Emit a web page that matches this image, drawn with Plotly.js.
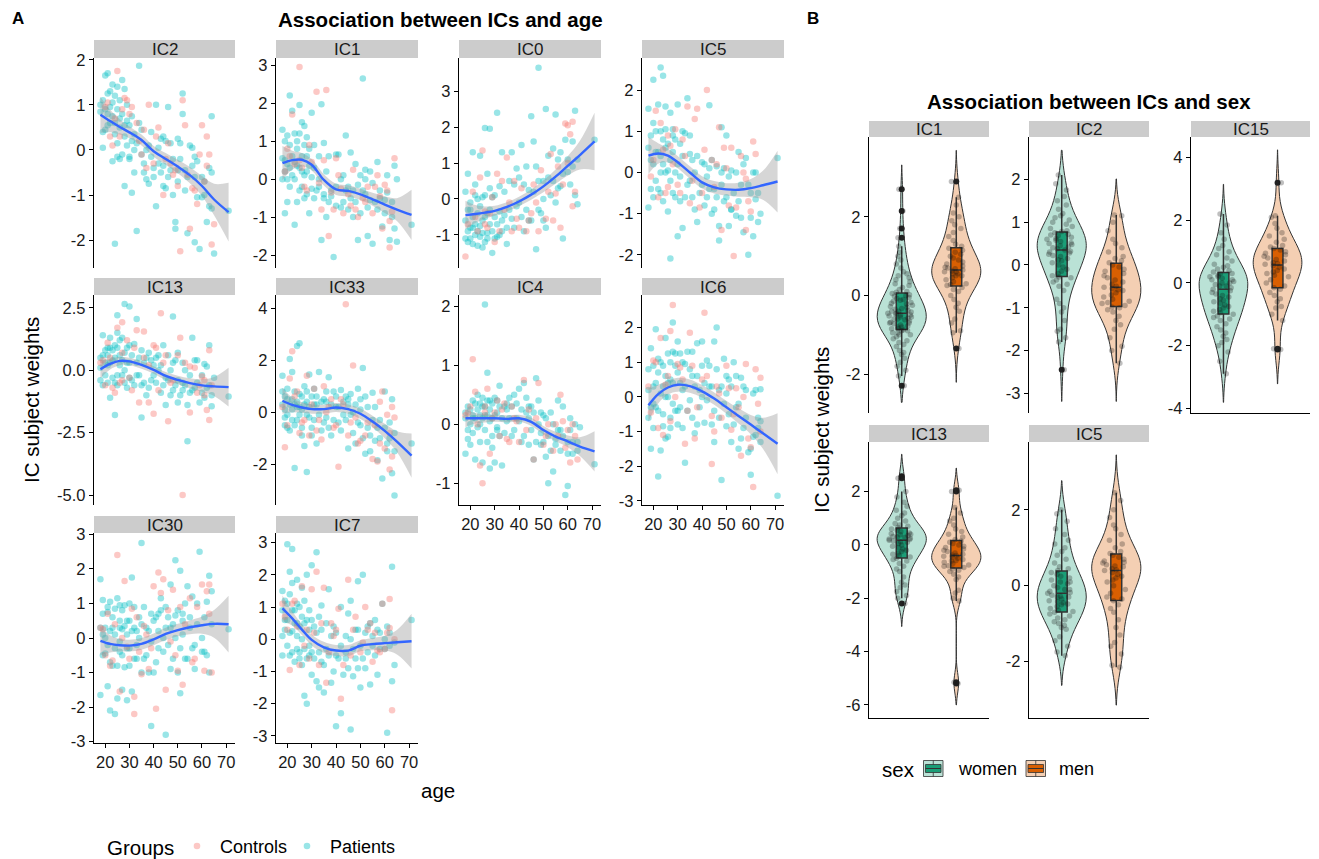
<!DOCTYPE html>
<html><head><meta charset="utf-8">
<script src="https://cdn.plot.ly/plotly-3.0.1.min.js"></script>
<style>html,body{margin:0;padding:0;background:#fff}#chart{width:1319px;height:859px}</style>
</head><body><div id="chart"></div>
<script>
// ---------------- DATA ----------------
const ageTicks = [20, 30, 40, 50, 60, 70];
const smoothAge = [18, 22, 26, 30, 35, 40, 45, 50, 55, 60, 65, 71];
const groupNames = ['Controls', 'Patients'];
const sexNames = ['women', 'men'];

// Panel A: [age, IC subject weight]
const IC2_patients = [[18,1.0],[19,0.4],[20,1.65],[21,1.7],[22,0.6],[22,1.3],[23,1.45],[24,0.35],[24,1.2],[25,0.9],[25,1.4],[26,0.5],[26,-0.2],[27,1.55],[27,0.8],[28,1.35],[28,-0.8],[29,0.1],[29,1.0],[30,0.55],[30,-0.15],[31,-0.95],[32,0.35],[32,-0.5],[33,-1.8],[34,0.6],[34,1.87],[35,-0.1],[36,-0.3],[37,0.0],[38,-0.75],[39,0.4],[40,-0.4],[41,1.0],[41,-1.25],[42,0.05],[43,0.25],[44,-0.35],[45,-0.85],[46,-0.6],[46,0.95],[47,0.15],[48,-1.0],[49,-1.6],[49,-1.75],[50,0.25],[51,-0.2],[52,1.25],[52,0.8],[53,-0.45],[54,-1.85],[55,0.1],[56,-0.35],[57,-2.05],[58,-1.05],[59,-2.2],[60,-0.6],[61,-1.0],[62,-1.6],[63,-0.4],[64,0.75],[64,-1.3],[65,-2.3],[71,-1.35],[24,-2.08],[19,0.05],[21,0.8],[23,-0.25],[31,0.2],[44,0.3],[50,-0.7],[57,-0.15],
  [18,0.85],[19,1.1],[20,0.45],[20,0.9],[21,1.25],[21,0.55],[22,0.95],[23,0.75],[23,1.05],[24,0.6],[25,0.15],[25,-0.15],[26,1.1],[26,0.7],[27,-0.1],[28,0.55],[28,0.3],[29,0.65],[30,-0.2],[31,0.75],[32,0.0],[33,0.15],[35,0.45],[36,-0.5],[37,-0.65],[38,0.1],[39,-0.15],[40,-0.6],[42,-0.3],[43,-0.5],[44,-0.8],[45,0.2],[47,-0.45],[48,-0.2],[50,-0.45],[51,0.15],[53,-0.9],[54,-0.6],[56,0.05],[57,-0.6],[58,-0.25],[60,-1.05],[61,-0.7],[63,-1.25],[64,-0.5]];
const IC2_controls = [[21,1.05],[23,0.1],[25,1.75],[27,0.9],[29,1.1],[31,0.95],[33,0.6],[35,-0.1],[38,1.0],[40,-0.3],[42,0.5],[44,-1.0],[46,0.15],[48,-0.55],[50,-0.8],[52,1.1],[53,0.55],[55,-1.75],[57,-0.9],[59,-0.1],[61,-0.7],[62,0.3],[63,-0.1],[64,-2.1],[51,-2.25],[58,-1.2],[26,0.3],[36,0.45],[47,-0.3],
  [20,0.95],[22,0.3],[24,0.7],[28,1.15],[30,0.8],[34,0.2],[37,-0.4],[41,0.3],[45,-0.2],[49,-0.45],[54,-0.55],[56,-0.85],[60,0.55],[62,-0.35],[65,-1.65]];
const IC2_fit = [0.78,0.64,0.51,0.39,0.22,-0.03,-0.20,-0.37,-0.56,-0.80,-1.10,-1.38];
const IC2_lo  = [0.38,0.39,0.34,0.26,0.10,-0.15,-0.33,-0.52,-0.74,-1.02,-1.45,-2.03];
const IC2_hi  = [1.18,0.89,0.68,0.52,0.34,0.09,-0.07,-0.22,-0.38,-0.58,-0.75,-0.73];

const IC1_patients = [[18,1.3],[18,0.0],[19,0.5],[19,-0.9],[20,1.15],[20,-0.6],[21,2.2],[21,0.3],[22,1.8],[22,0.1],[23,1.2],[23,-1.2],[24,1.0],[24,0.35],[25,1.95],[25,-0.3],[26,1.5],[26,0.6],[27,1.4],[27,-0.5],[28,1.1],[28,0.2],[29,0.8],[29,-0.9],[30,1.75],[30,0.05],[31,0.3],[31,-0.5],[34,1.97],[33,-0.2],[34,-1.6],[35,0.95],[35,-0.4],[36,-1.0],[37,0.6],[38,-0.3],[39,-2.05],[40,0.65],[40,-0.7],[42,0.0],[43,-0.6],[44,1.15],[45,-0.2],[46,0.7],[47,-1.0],[48,0.4],[49,-1.6],[50,0.1],[50,-0.9],[51,2.65],[52,-0.4],[53,-1.5],[54,0.2],[55,-1.7],[56,-0.6],[57,0.45],[58,-0.3],[59,-1.25],[60,-0.55],[61,0.1],[62,-1.6],[63,-1.0],[64,0.35],[65,-1.65],[65,0.0],[71,-1.2],[20,0.4],[27,0.9],[33,0.6],[45,-0.8],[52,0.25],
  [18,0.55],[19,1.0],[19,0.2],[20,0.0],[21,0.9],[21,-0.2],[22,0.6],[23,0.45],[23,0.0],[24,0.8],[24,-0.6],[25,1.2],[25,0.3],[26,0.2],[26,-0.2],[27,0.1],[28,0.6],[28,-0.4],[29,0.35],[30,-0.25],[31,0.9],[32,-0.3],[33,0.0],[35,-0.5],[36,0.2],[37,-0.6],[38,-0.45],[40,-0.2],[41,0.65],[42,-0.75],[43,0.1],[44,-0.3],[46,-0.5],[47,-0.3],[48,-0.6],[49,-0.15],[51,-0.3],[52,0.0],[53,-0.75],[54,-0.55],[55,-0.1],[57,-0.8],[58,-0.5],[60,-0.9],[61,-0.35],[63,-0.6],[64,-1.3]];
const IC1_controls = [[20,0.8],[22,1.7],[25,2.95],[25,0.5],[27,-0.2],[29,0.9],[32,2.3],[36,2.35],[35,0.5],[37,-1.5],[39,-0.8],[41,0.1],[43,-0.9],[45,-0.4],[47,0.25],[49,-1.0],[51,-0.5],[53,-0.2],[55,-0.9],[57,0.1],[59,-1.3],[61,-0.3],[62,-1.8],[63,-0.85],[64,0.55],[60,-0.15],[34,-0.8],[46,-0.7],
  [19,0.2],[21,0.6],[23,0.4],[26,0.3],[28,-0.3],[30,0.45],[33,-0.1],[38,-0.35],[40,0.55],[42,-0.25],[48,-0.8],[52,-0.6],[56,-0.2],[58,-0.45],[62,-1.1]];
const IC1_fit = [0.42,0.50,0.51,0.38,-0.02,-0.27,-0.31,-0.40,-0.53,-0.67,-0.80,-0.94];
const IC1_lo  = [-0.03,0.25,0.33,0.23,-0.17,-0.42,-0.46,-0.55,-0.70,-0.89,-1.10,-1.60];
const IC1_hi  = [0.87,0.75,0.69,0.53,0.13,-0.12,-0.16,-0.25,-0.36,-0.45,-0.50,-0.28];

const IC0_patients = [[18,0.2],[18,-1.1],[19,-0.9],[19,0.7],[20,-1.1],[21,1.3],[21,-0.8],[22,-1.0],[22,0.1],[23,-1.3],[23,-0.4],[24,1.2],[24,-1.05],[25,-0.6],[25,0.05],[26,1.97],[26,-1.2],[27,-0.95],[27,0.7],[28,1.95],[28,-0.3],[29,-1.5],[29,0.05],[30,-1.1],[31,2.4],[31,-0.7],[32,0.35],[32,-1.0],[33,1.3],[34,-0.45],[35,-1.25],[36,0.5],[37,1.3],[38,-0.8],[39,0.85],[40,-0.1],[41,1.5],[42,-0.9],[45,2.3],[44,0.25],[45,-0.6],[46,1.6],[48,3.65],[47,-1.4],[48,0.5],[51,2.5],[49,-0.4],[50,0.0],[51,-0.8],[52,0.6],[55,2.35],[54,1.4],[55,-0.1],[56,1.1],[57,0.35],[58,-1.1],[59,1.65],[60,0.75],[63,2.45],[61,0.4],[62,1.6],[63,0.1],[64,-0.15],[71,1.65],[20,-0.3],[26,-0.5],[33,-0.9],[43,-0.3],[50,-0.6],
  [18,-0.6],[19,-0.3],[19,-1.2],[20,-0.8],[20,-0.1],[21,-0.5],[21,-1.25],[22,-0.7],[22,0.4],[23,-0.9],[23,0.0],[24,-0.2],[24,-0.75],[25,-0.95],[25,-1.35],[26,0.1],[27,-0.4],[27,-1.1],[28,-0.7],[28,0.3],[29,-0.9],[30,-0.5],[30,0.1],[31,-1.05],[32,-0.35],[33,-0.6],[34,0.2],[35,-0.8],[36,-0.3],[37,-0.55],[38,0.4],[39,-0.2],[40,0.6],[41,-0.5],[42,0.4],[43,0.9],[44,-0.6],[46,0.2],[47,0.9],[48,-0.3],[50,0.5],[52,1.2],[53,0.1],[54,0.5],[56,0.3],[57,1.3],[58,0.7],[60,1.1],[62,0.9],[64,1.1]];
const IC0_controls = [[18,-1.6],[21,0.2],[22,-0.5],[24,0.6],[25,1.35],[27,-0.8],[29,0.05],[30,-1.2],[31,0.7],[33,0.5],[35,1.15],[37,-0.9],[39,-0.55],[41,0.3],[43,-0.9],[45,-0.4],[47,-0.1],[49,0.8],[51,-0.55],[53,1.25],[55,0.15],[57,-0.8],[58,0.4],[59,2.1],[60,2.05],[61,1.8],[62,-0.2],[63,0.2],[60,1.0],[26,-0.35],[36,-0.1],
  [19,-0.7],[23,-0.9],[26,-0.7],[28,-0.4],[32,-0.9],[34,-0.3],[38,0.5],[40,-0.8],[44,-0.6],[46,0.4],[48,-0.9],[52,0.2],[54,-0.6],[56,0.9],[62,2.15]];
const IC0_fit = [-0.45,-0.42,-0.38,-0.33,-0.22,-0.07,0.12,0.35,0.62,0.92,1.22,1.60];
const IC0_lo  = [-0.85,-0.67,-0.55,-0.47,-0.35,-0.20,-0.02,0.19,0.42,0.65,0.82,0.80];
const IC0_hi  = [-0.05,-0.17,-0.21,-0.19,-0.09,0.06,0.26,0.51,0.82,1.19,1.62,2.40];

const IC5_patients = [[18,1.55],[18,-0.85],[19,0.3],[20,2.25],[20,-0.6],[21,0.5],[21,1.0],[22,1.65],[22,-0.4],[23,2.55],[23,0.0],[24,2.35],[24,0.8],[24,-0.7],[25,1.6],[25,0.6],[26,0.05],[26,-0.95],[27,1.45],[27,0.3],[27,-2.09],[28,1.05],[29,0.0],[29,-0.6],[30,1.65],[30,-1.55],[31,0.7],[32,-1.35],[32,1.0],[33,-0.6],[34,1.8],[35,0.45],[36,-0.6],[37,0.0],[38,-1.2],[43,1.63],[39,-0.5],[40,0.25],[41,-0.8],[42,-0.1],[43,0.1],[44,-1.0],[47,-1.65],[46,0.15],[47,-1.3],[48,0.0],[48,1.1],[49,-0.7],[50,0.9],[51,-1.3],[52,0.05],[53,-0.5],[54,-1.05],[55,0.5],[56,-0.3],[57,-1.45],[58,0.35],[59,-2.0],[60,-0.5],[61,-1.55],[62,0.0],[62,-0.65],[63,-1.2],[71,0.35],[23,0.4],[28,0.9],[35,-0.2],[45,-0.4],[52,-0.9],
  [18,0.6],[19,0.9],[19,-0.4],[20,0.2],[20,1.2],[21,-0.2],[22,0.5],[23,1.0],[23,-0.5],[24,0.2],[25,0.0],[25,1.05],[26,0.7],[27,-0.2],[28,0.5],[28,-0.5],[29,0.8],[30,0.2],[31,-0.1],[31,-0.7],[32,0.4],[33,0.95],[34,-0.3],[35,0.9],[36,0.3],[37,-0.9],[38,0.4],[40,-0.3],[41,0.2],[42,-0.6],[43,-0.4],[44,0.3],[45,-0.9],[46,-0.6],[48,-0.3],[49,0.1],[50,-0.6],[51,-0.1],[52,-0.9],[54,0.0],[55,-0.7],[56,-1.1],[57,0.2],[59,-0.3],[60,-1.1],[61,0.0],[63,-0.5],[64,-1.0]];
const IC5_controls = [[19,-0.1],[21,1.5],[23,1.2],[25,-0.5],[27,0.65],[29,1.05],[30,-0.3],[32,0.8],[34,1.6],[35,-0.75],[37,1.3],[39,-0.85],[41,0.55],[42,2.0],[45,-0.35],[47,1.1],[48,-1.4],[50,0.1],[52,0.6],[54,-0.85],[53,-2.03],[56,0.4],[58,-1.4],[60,-0.95],[61,0.75],[62,0.45],[58,-0.15],[26,0.9],[44,0.3],
  [20,0.3],[22,-0.6],[24,0.55],[26,-0.35],[28,0.2],[31,-0.5],[33,0.4],[36,-0.2],[38,1.55],[40,-0.5],[46,0.2],[49,0.6],[51,-0.8],[57,0.0],[59,-0.7]];
const IC5_fit = [0.41,0.46,0.41,0.25,0.00,-0.24,-0.36,-0.41,-0.42,-0.38,-0.31,-0.22];
const IC5_lo  = [-0.04,0.21,0.24,0.10,-0.15,-0.39,-0.51,-0.56,-0.59,-0.60,-0.66,-0.97];
const IC5_hi  = [0.86,0.71,0.58,0.40,0.15,-0.09,-0.21,-0.26,-0.25,-0.16,0.04,0.53];

const IC13_patients = [[18,0.5],[18,-0.4],[19,1.4],[20,0.8],[20,-0.2],[21,0.2],[22,-1.1],[22,0.9],[23,0.4],[24,1.0],[24,-0.5],[25,1.5],[25,-0.2],[26,0.6],[25,2.2],[24,-1.8],[27,1.3],[28,0.0],[28,2.65],[29,0.9],[29,-0.7],[30,2.55],[30,0.3],[31,-0.4],[32,1.05],[33,-0.2],[33,2.05],[34,0.5],[35,-0.6],[36,0.3],[37,-1.0],[38,0.7],[39,-0.4],[35,-1.9],[41,0.5],[42,0.0],[43,-0.9],[44,1.0],[45,-0.3],[46,0.6],[47,-1.0],[48,0.3],[49,-0.6],[50,0.7],[50,-1.3],[48,2.15],[52,-0.5],[53,0.0],[54,-2.85],[55,-0.9],[56,1.3],[57,-0.7],[58,0.4],[59,-1.3],[60,-0.2],[61,-1.1],[62,0.15],[63,1.0],[63,-0.6],[64,-1.45],[65,-0.3],[71,-1.05],[21,0.6],[27,0.4],[40,0.2],[52,-0.8],
  [18,0.1],[19,0.6],[19,-0.6],[20,0.3],[21,0.9],[21,-0.5],[22,0.3],[22,1.3],[23,0.8],[23,-0.3],[24,0.5],[25,0.9],[25,-0.6],[26,0.2],[26,1.2],[27,-0.2],[28,0.7],[28,-0.5],[29,0.3],[30,1.0],[30,-0.3],[31,0.6],[32,-0.6],[33,0.3],[34,-0.2],[35,0.8],[36,-0.5],[37,0.5],[38,-0.7],[39,0.4],[40,-0.2],[41,-0.5],[42,0.6],[43,0.2],[44,-0.6],[45,-1.4],[46,-0.4],[47,0.0],[48,-0.8],[49,0.4],[50,-0.4],[51,-1.0],[52,0.3],[53,-0.6],[54,-1.4],[55,-0.2],[56,-0.8],[57,0.4],[58,-0.5],[60,-0.9],[61,0.25],[62,-0.7],[64,-1.0]];
const IC13_controls = [[19,0.4],[21,1.1],[23,-0.7],[25,1.7],[27,0.7],[27,1.92],[30,-0.3],[32,0.9],[34,-1.3],[36,1.55],[38,0.2],[40,1.0],[42,-0.8],[40,-1.75],[43,2.28],[48,-0.4],[46,-2.05],[51,1.3],[53,0.3],[55,0.15],[52,-5.0],[58,-0.9],[60,-0.25],[63,-2.0],[63,0.8],[62,-1.6],[61,-0.4],[26,-0.5],[45,0.6],
  [18,0.3],[20,-0.6],[22,0.5],[24,-0.9],[27,-0.4],[29,1.2],[31,-0.8],[33,1.6],[36,0.5],[38,-1.3],[41,0.9],[44,0.3],[47,-0.5],[50,0.6],[55,-1.7],[57,0.1],[59,-0.6],[61,-1.0],[64,-0.6]];
const IC13_fit = [0.04,0.25,0.37,0.35,0.21,0.01,-0.23,-0.39,-0.52,-0.61,-0.65,-0.68];
const IC13_lo  = [-0.33,0.03,0.20,0.20,0.06,-0.14,-0.39,-0.56,-0.72,-0.86,-1.03,-1.46];
const IC13_hi  = [0.41,0.47,0.54,0.50,0.36,0.16,-0.07,-0.22,-0.32,-0.36,-0.27,0.10];

const IC33_patients = [[18,1.4],[18,0.3],[19,-0.5],[20,0.9],[20,-0.1],[21,2.05],[21,-0.7],[22,0.5],[22,1.55],[23,-2.15],[23,0.3],[24,2.55],[24,-0.3],[25,2.65],[25,0.7],[26,-0.9],[26,0.1],[27,-1.3],[27,1.0],[28,-2.3],[28,0.4],[29,1.45],[29,-0.2],[30,-0.6],[31,0.9],[32,-1.2],[32,0.3],[33,1.55],[34,-0.7],[35,0.5],[36,-0.2],[37,1.35],[38,-0.9],[39,0.8],[40,0.2],[41,-0.4],[42,0.85],[43,-0.1],[44,0.6],[45,-1.4],[46,0.7],[47,0.0],[48,-1.2],[49,0.9],[50,-0.5],[51,1.7],[52,-1.6],[53,0.2],[54,-0.9],[55,0.75],[56,-1.1],[57,-1.85],[58,-0.3],[59,-2.55],[60,0.8],[61,-1.5],[62,-1.0],[63,-2.35],[63,0.5],[64,-3.2],[64,-0.8],[71,-1.2],[19,0.6],[24,0.2],[30,0.6],[36,0.4],[45,0.3],[50,0.5],
  [18,0.8],[19,0.1],[19,-0.2],[20,0.5],[20,-0.6],[21,0.3],[22,-0.3],[22,0.1],[23,0.8],[23,-0.5],[24,0.4],[25,-0.1],[25,0.2],[26,0.6],[26,-0.6],[27,0.3],[28,-0.1],[28,0.8],[29,0.2],[30,-0.9],[31,0.3],[31,-0.3],[32,0.6],[33,-0.1],[34,0.4],[35,-0.4],[36,0.8],[37,-0.6],[38,0.3],[39,-0.3],[40,0.6],[41,0.2],[42,-0.7],[43,0.4],[44,-0.3],[45,0.5],[46,-0.1],[47,-0.8],[48,0.3],[49,-0.4],[50,0.1],[51,-1.0],[52,0.6],[53,-0.6],[54,-1.5],[55,-0.3],[56,0.2],[57,-0.6],[58,-1.0],[60,-0.6],[61,-1.2],[62,-0.4],[64,-1.5]];
const IC33_controls = [[19,-1.35],[21,1.3],[22,2.35],[24,0.8],[26,-0.4],[28,1.4],[30,0.3],[32,-0.7],[34,-1.05],[36,0.0],[38,0.5],[40,-0.5],[41,-2.1],[43,0.3],[45,-0.9],[47,1.8],[49,-1.2],[44,4.15],[53,-0.4],[55,-1.8],[57,-1.9],[59,0.8],[60,-1.4],[61,-0.1],[62,-2.2],[63,-1.7],[64,-0.2],[58,0.4],[27,-0.3],
  [18,0.2],[20,-0.5],[23,0.6],[25,-0.8],[29,-0.9],[31,0.9],[33,-0.3],[35,1.0],[37,0.2],[39,-0.6],[42,0.5],[46,-0.4],[48,-0.2],[50,-1.1],[52,-0.9],[56,-0.5],[58,-1.2],[62,-0.8],[63,0.2]];
const IC33_fit = [0.44,0.28,0.18,0.12,0.12,0.18,0.12,-0.06,-0.36,-0.72,-1.13,-1.67];
const IC33_lo  = [-0.06,0.00,-0.02,-0.06,-0.05,0.01,-0.06,-0.26,-0.58,-1.00,-1.53,-2.52];
const IC33_hi  = [0.94,0.56,0.38,0.30,0.29,0.35,0.30,0.14,-0.14,-0.44,-0.73,-0.82];

const IC4_patients = [[18,0.2],[18,-0.5],[19,-0.1],[20,0.25],[20,-0.35],[21,0.4],[22,-0.6],[22,0.1],[23,0.5],[24,-0.3],[24,0.0],[25,0.3],[25,-0.65],[26,2.03],[26,0.15],[27,0.87],[27,-0.3],[28,0.4],[28,-0.75],[29,0.1],[29,-0.4],[30,-0.65],[30,0.45],[31,0.2],[32,-0.2],[32,0.65],[33,-0.7],[34,0.3],[35,0.05],[36,0.45],[37,-0.2],[38,0.5],[39,0.1],[40,0.6],[41,-0.3],[42,0.7],[43,0.2],[44,-0.35],[45,0.3],[46,-0.6],[47,0.78],[48,0.0],[49,-0.35],[50,0.15],[51,-0.55],[52,-1.0],[53,0.2],[54,-0.8],[55,-0.25],[56,0.4],[57,-0.1],[58,0.3],[59,-1.2],[60,-0.5],[60,-1.05],[61,0.1],[62,-0.3],[63,0.0],[64,-0.45],[65,-0.05],[71,-0.68],[21,0.1],[24,0.35],[27,0.15],[31,-0.1],[35,0.35],[44,0.1],[49,0.2],
  [18,0.1],[19,0.3],[19,-0.25],[20,0.0],[21,0.15],[21,-0.15],[22,0.35],[23,-0.05],[23,0.25],[24,0.15],[25,0.1],[25,0.45],[26,-0.1],[26,0.3],[27,0.4],[28,0.05],[28,0.25],[29,0.35],[29,-0.2],[30,0.15],[31,0.4],[31,-0.05],[32,0.3],[33,0.1],[34,-0.15],[35,0.25],[36,0.1],[37,0.3],[38,-0.1],[39,0.35],[40,0.05],[41,0.25],[42,-0.2],[43,0.45],[44,0.3],[45,-0.1],[46,0.2],[47,-0.3],[48,0.4],[49,-0.15],[50,-0.3],[51,0.1],[52,-0.2],[53,-0.45],[54,0.0],[55,-0.35],[56,-0.1],[57,-0.45],[58,-0.2],[60,-0.3],[61,-0.1],[62,-0.5],[64,-0.3]];
const IC4_controls = [[19,0.2],[21,1.1],[22,0.55],[24,-0.7],[25,-1.0],[27,0.6],[28,-0.5],[30,0.2],[32,-0.2],[34,0.35],[36,-0.3],[38,0.1],[40,-0.3],[42,0.75],[44,0.25],[46,-0.6],[48,0.7],[50,-0.35],[52,0.0],[54,-0.45],[56,-0.2],[58,0.05],[60,-0.1],[61,-0.65],[62,0.0],[63,-0.2],[57,0.5],[26,0.3],
  [18,0.15],[20,0.3],[23,0.0],[26,0.2],[29,0.1],[31,0.4],[33,0.25],[35,-0.25],[37,0.3],[39,0.05],[43,-0.1],[47,0.1],[51,-0.2],[55,0.0],[59,-0.4],[64,-0.6]];
const IC4_fit = [0.10,0.10,0.10,0.10,0.09,0.10,0.04,-0.10,-0.21,-0.29,-0.38,-0.46];
const IC4_lo  = [-0.05,0.01,0.03,0.04,0.03,0.04,-0.03,-0.17,-0.29,-0.39,-0.54,-0.80];
const IC4_hi  = [0.25,0.19,0.17,0.16,0.15,0.16,0.11,-0.03,-0.13,-0.19,-0.22,-0.12];

const IC6_patients = [[18,0.8],[18,-0.6],[19,1.4],[19,-1.5],[20,0.3],[21,1.95],[21,-0.3],[22,-2.3],[22,0.7],[23,1.0],[23,-1.55],[24,0.3],[24,-0.85],[25,1.7],[25,0.0],[26,1.25],[26,-1.15],[27,0.5],[27,-0.6],[28,2.15],[28,1.3],[29,-0.4],[29,0.9],[30,1.6],[30,-0.8],[31,1.25],[32,0.2],[33,-1.9],[33,0.95],[34,1.3],[35,-0.1],[36,0.6],[37,-1.05],[38,1.55],[38,-0.8],[39,0.2],[40,1.6],[41,-0.75],[42,1.05],[43,0.3],[44,-0.8],[45,1.6],[45,-1.3],[46,2.0],[47,0.2],[48,-2.4],[49,1.1],[50,-0.85],[51,0.5],[52,-1.3],[53,1.0],[54,-0.3],[55,-1.5],[56,0.55],[57,-0.9],[58,0.2],[59,-1.6],[60,-2.25],[61,-1.15],[62,0.2],[63,-0.6],[64,-1.3],[64,0.22],[71,-2.85],[20,-0.2],[26,0.4],[31,-0.3],[40,0.0],[50,0.1],
  [18,0.2],[19,-0.3],[20,0.9],[20,-0.9],[21,0.4],[22,-0.4],[22,1.1],[23,0.1],[24,0.9],[24,-0.5],[25,0.6],[25,-1.2],[26,0.0],[27,1.0],[27,-0.9],[28,0.4],[28,-0.2],[29,1.25],[30,0.7],[30,-0.4],[31,0.4],[32,1.0],[32,-0.9],[33,0.3],[34,-0.4],[35,0.8],[36,1.3],[36,-0.6],[37,0.3],[38,0.6],[39,-0.3],[40,0.9],[41,0.4],[42,-0.1],[43,0.9],[44,0.3],[45,-0.4],[46,0.8],[47,-0.6],[48,0.3],[49,-0.2],[50,0.6],[51,-0.5],[52,0.3],[53,-0.8],[54,0.6],[55,-0.2],[56,-1.2],[57,0.3],[58,-0.6],[60,-1.5],[61,0.1],[62,-1.1],[63,-0.9],[64,-0.7]];
const IC6_controls = [[19,-0.45],[21,1.0],[23,1.7],[24,-1.1],[26,0.6],[28,2.65],[29,0.0],[31,0.85],[33,-1.35],[35,1.85],[37,-1.2],[41,2.43],[40,0.5],[44,-1.94],[44,-0.55],[46,0.3],[48,-0.6],[50,0.9],[52,-0.95],[54,0.25],[56,-1.7],[58,0.95],[60,-1.45],[61,-2.6],[62,0.8],[63,-0.2],[64,0.55],[27,-0.7],
  [18,0.3],[20,1.05],[22,-0.9],[25,0.35],[27,1.9],[30,0.95],[32,0.5],[34,-0.4],[36,0.9],[38,-0.3],[42,0.6],[45,-1.0],[47,0.1],[51,0.25],[53,-0.5],[55,-0.3],[57,0.0],[59,-1.2],[64,-1.0]];
const IC6_fit = [-0.24,0.08,0.27,0.35,0.31,0.16,-0.05,-0.30,-0.55,-0.80,-1.05,-1.35];
const IC6_lo  = [-0.72,-0.19,0.07,0.15,0.12,-0.02,-0.23,-0.49,-0.77,-1.08,-1.50,-2.23];
const IC6_hi  = [0.24,0.35,0.47,0.55,0.50,0.34,0.13,-0.11,-0.33,-0.52,-0.60,-0.47];

const IC30_patients = [[18,1.7],[18,-1.65],[19,0.7],[19,0.1],[20,-0.45],[21,0.75],[21,-1.4],[22,1.05],[22,-2.1],[23,0.3],[23,-0.8],[24,-2.2],[24,0.85],[25,1.15],[25,-1.75],[26,-0.4],[26,0.5],[27,0.25],[27,-1.5],[28,0.95],[28,-0.85],[29,0.5],[29,-1.8],[30,1.0],[30,-0.3],[31,1.75],[31,-1.55],[32,0.3],[33,-0.6],[34,0.6],[35,2.75],[35,-1.0],[36,0.9],[37,-0.5],[38,0.2],[39,-2.55],[39,0.7],[40,-1.0],[41,0.6],[42,-0.3],[43,1.15],[44,0.0],[45,-2.8],[45,0.9],[46,-0.2],[47,1.55],[47,0.3],[48,-0.6],[49,2.25],[49,0.65],[50,-1.0],[51,1.95],[51,-1.6],[52,0.1],[53,-0.6],[54,1.5],[55,0.6],[56,-0.3],[57,-0.9],[58,1.0],[59,2.5],[60,0.0],[61,-0.4],[62,1.05],[63,-1.0],[63,1.8],[64,1.35],[71,0.25],[20,0.3],[26,0.95],[33,0.2],[42,0.7],[52,0.7],
  [18,0.3],[19,-0.5],[19,1.1],[20,0.0],[21,-0.2],[21,0.9],[22,0.2],[22,-0.7],[23,0.6],[24,-0.3],[24,0.1],[25,-0.8],[26,0.3],[26,-0.1],[27,0.8],[27,-0.5],[28,0.35],[29,-0.3],[29,0.1],[30,0.5],[30,-0.8],[31,0.2],[32,-0.6],[32,0.9],[33,-0.2],[34,0.0],[35,0.4],[36,-0.6],[37,0.3],[38,-1.0],[39,-0.1],[40,0.5],[41,-0.7],[42,0.2],[43,0.8],[44,-0.4],[45,0.3],[46,0.6],[47,-0.9],[48,0.4],[49,0.0],[50,0.8],[51,-0.3],[52,0.5],[53,1.0],[54,-0.6],[55,0.3],[56,1.2],[57,-0.2],[58,0.4],[60,-0.4],[61,0.6],[62,-0.5],[64,0.4]];
const IC30_controls = [[19,0.25],[21,0.7],[23,-0.65],[25,2.4],[26,-1.55],[28,1.65],[29,-0.25],[31,0.85],[32,-1.7],[32,-2.2],[34,-0.4],[36,0.35],[38,-0.9],[40,1.5],[41,-2.05],[42,1.9],[43,1.3],[44,1.7],[45,-1.5],[47,-0.1],[48,1.4],[50,-0.95],[51,0.9],[52,-1.35],[55,1.15],[57,-0.6],[60,1.55],[61,-0.95],[62,1.35],[63,0.7],[64,-1.0],
  [18,0.3],[20,-0.5],[22,-0.8],[24,0.4],[27,0.0],[30,-0.6],[33,0.6],[35,-1.05],[37,0.1],[39,-0.3],[46,0.8],[49,-0.5],[53,0.4],[56,-0.7],[58,0.9],[63,1.55]];
const IC30_fit = [-0.08,-0.17,-0.21,-0.22,-0.17,-0.04,0.12,0.23,0.31,0.37,0.41,0.40];
const IC30_lo  = [-0.50,-0.42,-0.39,-0.39,-0.34,-0.21,-0.06,0.05,0.11,0.12,0.01,-0.42];
const IC30_hi  = [0.34,0.08,-0.03,-0.05,0.00,0.13,0.30,0.41,0.51,0.62,0.81,1.22];

const IC7_patients = [[18,1.5],[18,0.1],[19,0.6],[20,2.95],[20,1.1],[21,2.1],[21,-0.5],[22,1.75],[22,0.25],[22,2.8],[23,0.9],[24,1.85],[24,-0.3],[25,1.0],[25,-0.6],[26,1.6],[26,0.0],[27,-1.75],[27,0.5],[28,2.0],[28,-2.0],[29,0.9],[29,-0.5],[30,2.3],[30,-1.1],[32,2.7],[31,0.4],[32,-1.3],[33,0.7],[33,-1.5],[34,1.05],[35,-1.65],[36,-0.3],[37,1.55],[38,-1.35],[39,0.4],[40,-0.5],[40,-2.7],[42,1.0],[42,-2.3],[44,-0.6],[45,0.8],[46,-2.8],[46,1.2],[47,-1.15],[48,0.3],[49,1.8],[50,-1.5],[51,2.0],[52,-0.9],[53,0.4],[54,-1.4],[55,-0.2],[56,0.6],[57,-1.1],[58,0.2],[59,1.1],[60,-0.3],[61,-2.9],[62,0.2],[63,2.25],[63,-1.3],[64,-0.8],[71,0.6],[20,-0.2],[24,0.5],[29,-0.2],[34,-0.7],[44,0.1],[49,-0.9],
  [18,0.9],[18,-0.5],[19,1.2],[19,0.3],[20,0.6],[21,1.4],[21,0.2],[22,-0.4],[22,0.9],[23,0.5],[23,-0.7],[24,1.1],[24,0.1],[25,0.4],[25,-0.4],[26,0.7],[26,-0.8],[27,1.2],[27,-0.3],[28,0.6],[28,-0.6],[29,0.3],[30,0.6],[30,-0.4],[31,-0.6],[32,0.2],[33,-0.4],[34,0.3],[35,-0.8],[36,0.5],[37,-0.5],[38,0.1],[39,-1.0],[40,0.2],[41,-0.6],[42,-0.2],[43,-1.1],[44,-0.4],[45,-0.9],[46,0.0],[47,-0.3],[48,-0.6],[49,0.3],[50,-0.2],[51,-0.6],[52,0.2],[53,-0.4],[54,0.5],[55,0.1],[56,-0.5],[57,0.3],[58,-0.3],[60,0.0],[61,0.4],[62,-0.2],[64,-0.1]];
const IC7_controls = [[19,0.7],[21,-0.95],[23,1.2],[25,-0.8],[26,1.65],[28,0.3],[30,1.55],[32,2.1],[33,-0.8],[35,1.6],[36,-1.35],[38,0.5],[40,0.3],[41,0.95],[42,-1.85],[45,1.85],[46,-0.5],[48,0.7],[50,-0.4],[52,1.0],[53,0.3],[55,-0.7],[57,-0.35],[59,1.1],[60,-0.3],[62,1.25],[63,-2.2],[62,0.35],
  [18,1.1],[20,0.3],[22,1.1],[24,0.4],[27,-0.2],[29,-0.6],[31,0.2],[34,0.5],[37,-0.4],[39,0.1],[43,-0.8],[47,0.3],[51,-0.1],[54,0.5],[56,0.2],[58,-0.4],[61,0.2],[64,0.0]];
const IC7_fit = [0.96,0.65,0.30,-0.02,-0.25,-0.35,-0.35,-0.20,-0.15,-0.12,-0.09,-0.06];
const IC7_lo  = [0.56,0.43,0.13,-0.19,-0.42,-0.52,-0.52,-0.37,-0.34,-0.35,-0.47,-0.91];
const IC7_hi  = [1.36,0.87,0.47,0.15,-0.08,-0.18,-0.18,-0.03,0.04,0.11,0.29,0.79];

// Panel B: IC subject weights by sex
const B_IC1_women = [-2.3,-2.05,-1.9,-1.8,-1.7,-1.6,-1.5,-1.45,-1.4,-1.3,-1.25,-1.2,-1.15,-1.1,-1.05,-1.0,-1.0,-0.95,-0.95,-0.9,-0.9,-0.88,-0.85,-0.85,-0.8,-0.8,-0.78,-0.75,-0.72,-0.7,-0.7,-0.68,-0.65,-0.62,-0.6,-0.6,-0.58,-0.55,-0.55,-0.52,-0.5,-0.5,-0.48,-0.45,-0.45,-0.42,-0.4,-0.4,-0.38,-0.35,-0.33,-0.3,-0.28,-0.25,-0.22,-0.2,-0.18,-0.15,-0.12,-0.1,-0.08,-0.05,-0.02,0.0,0.02,0.05,0.08,0.1,0.15,0.2,0.25,0.3,0.35,0.4,0.45,0.5,0.55,0.6,0.7,0.8,0.9,1.0,1.1,1.25,1.47,1.7,2.15,2.7];
const B_IC1_men = [-1.35,-0.95,-0.9,-0.7,-0.6,-0.4,-0.3,-0.2,-0.1,0.0,0.1,0.15,0.2,0.25,0.28,0.3,0.35,0.4,0.45,0.5,0.5,0.55,0.55,0.6,0.6,0.62,0.65,0.68,0.7,0.72,0.75,0.8,0.85,0.9,0.95,1.0,1.05,1.1,1.15,1.2,1.25,1.3,1.4,1.5,1.6,1.7,1.8,1.9,2.0,2.1,2.3,2.5,2.9];
const B_IC2_women = [-2.45,-1.8,-1.7,-1.55,-1.5,-1.3,-1.1,-1.0,-0.9,-0.8,-0.6,-0.5,-0.45,-0.4,-0.35,-0.3,-0.28,-0.25,-0.2,-0.15,-0.1,-0.05,0.0,0.05,0.1,0.12,0.15,0.2,0.22,0.25,0.28,0.3,0.32,0.35,0.38,0.4,0.42,0.45,0.48,0.5,0.52,0.55,0.58,0.6,0.62,0.65,0.68,0.7,0.72,0.75,0.78,0.8,0.85,0.9,0.95,1.0,1.05,1.1,1.15,1.2,1.3,1.4,1.5,1.6,1.75,1.9,2.1];
const B_IC2_men = [-2.3,-2.0,-1.9,-1.7,-1.5,-1.4,-1.3,-1.2,-1.1,-1.05,-1.0,-0.98,-0.95,-0.9,-0.88,-0.85,-0.8,-0.75,-0.7,-0.65,-0.6,-0.58,-0.55,-0.52,-0.5,-0.45,-0.4,-0.35,-0.3,-0.25,-0.2,-0.15,-0.1,-0.05,0.0,0.05,0.1,0.15,0.2,0.3,0.4,0.5,0.6,0.8,1.0,1.15,1.17];
const B_IC15_women = [-2.9,-2.5,-2.2,-2.0,-1.9,-1.8,-1.7,-1.6,-1.5,-1.4,-1.3,-1.2,-1.15,-1.1,-1.05,-1.0,-0.95,-0.9,-0.85,-0.8,-0.75,-0.7,-0.65,-0.6,-0.55,-0.5,-0.45,-0.4,-0.35,-0.3,-0.25,-0.2,-0.15,-0.1,-0.1,-0.05,0.0,0.0,0.05,0.1,0.1,0.15,0.2,0.2,0.25,0.3,0.3,0.35,0.4,0.45,0.5,0.55,0.6,0.7,0.8,0.9,1.0,1.1,1.2,1.4,1.6,1.85,2.2];
const B_IC15_men = [-2.1,-2.12,-1.2,-1.0,-0.8,-0.75,-0.6,-0.5,-0.4,-0.3,-0.2,-0.15,-0.1,0.0,0.1,0.2,0.25,0.3,0.35,0.4,0.45,0.5,0.55,0.6,0.62,0.65,0.7,0.75,0.8,0.85,0.9,0.95,1.0,1.05,1.1,1.15,1.2,1.3,1.4,1.5,1.6,1.75,1.9,2.1,2.15,3.2];
const B_IC13_women = [-2.2,-2.0,-1.9,-1.75,-1.6,-1.5,-1.4,-1.2,-1.0,-0.9,-0.8,-0.7,-0.6,-0.55,-0.5,-0.45,-0.4,-0.35,-0.3,-0.25,-0.2,-0.15,-0.1,-0.05,0.0,0.05,0.1,0.12,0.15,0.18,0.2,0.22,0.25,0.28,0.3,0.32,0.35,0.38,0.4,0.42,0.45,0.5,0.55,0.6,0.65,0.7,0.75,0.8,0.9,1.0,1.1,1.2,1.3,1.45,1.6,1.8,2.0,2.5,2.58];
const B_IC13_men = [-5.2,-5.15,-2.1,-2.0,-1.8,-1.7,-1.3,-1.2,-1.1,-1.0,-0.95,-0.9,-0.85,-0.8,-0.78,-0.75,-0.7,-0.65,-0.6,-0.58,-0.55,-0.5,-0.45,-0.42,-0.4,-0.38,-0.35,-0.3,-0.25,-0.2,-0.15,-0.1,-0.05,0.0,0.05,0.1,0.15,0.2,0.3,0.4,0.5,0.6,0.75,0.9,1.0,1.2,1.4,2.0,2.05];
const B_IC5_women = [-1.85,-1.75,-1.6,-1.45,-1.35,-1.15,-1.1,-1.05,-1.0,-0.95,-0.9,-0.85,-0.8,-0.75,-0.7,-0.68,-0.65,-0.6,-0.55,-0.5,-0.48,-0.45,-0.42,-0.4,-0.35,-0.3,-0.3,-0.28,-0.25,-0.2,-0.18,-0.15,-0.1,-0.1,-0.05,0.0,0.05,0.1,0.1,0.15,0.2,0.25,0.3,0.35,0.4,0.45,0.5,0.6,0.7,0.8,0.9,1.0,1.1,1.2,1.35,1.5,1.7,1.9,2.0];
const B_IC5_men = [-2.15,-2.1,-1.8,-1.6,-1.5,-1.3,-1.1,-0.9,-0.7,-0.6,-0.5,-0.4,-0.35,-0.3,-0.2,-0.1,0.0,0.1,0.15,0.2,0.25,0.3,0.35,0.4,0.42,0.45,0.5,0.52,0.55,0.6,0.62,0.65,0.7,0.75,0.8,0.85,0.9,1.0,1.1,1.2,1.35,1.5,1.6,1.8,2.0,2.25,2.45];
// violin extents (tail ends) as drawn in the reference: [women], [men]
const B_IC1_span  = [[-2.72,3.32],[-2.21,3.69]];
const B_IC2_span  = [[-3.19,2.68],[-3.19,2.01]];
const B_IC15_span = [[-3.81,3.15],[-3.22,4.25]];
const B_IC13_span = [[-3.06,3.40],[-6.00,2.88]];
const B_IC5_span  = [[-2.63,2.77],[-3.15,3.45]];

// ---------------- LAYOUT / DRAWING ----------------
const W = 1319, H = 859;
const fx = v => v / W, fy = v => 1 - v / H;
const FONT = '"Liberation Sans", Arial, Helvetica, sans-serif';
const TXT = '#1a1a1a';
const COL_CTRL = 'rgba(248,118,109,0.4)', COL_PAT = 'rgba(0,191,196,0.4)';
const WOMEN = '#1B9E77', MEN = '#D95F02';
const WOMEN_V = 'rgba(27,158,119,0.3)', MEN_V = 'rgba(217,95,2,0.3)';

const A_COLS = [[94,235],[276,418],[459,601],[642,784]];
const A_ROWS = [[58,268],[295,505],[533,743]];
const A_STRIPS = [[40,58],[278,295],[516,533]];
const B_COLS = [[869,989],[1029,1149],[1191,1310]];
const B_ROWS = [[137,413],[442,718]];
const B_STRIPS = [[121,137],[425,442]];

const agePanels = [
  {name:'IC2',  pat:IC2_patients,  ctrl:IC2_controls,  fit:IC2_fit,  lo:IC2_lo,  hi:IC2_hi,  range:[-2.62,2.04], ticks:[-2,-1,0,1,2], col:0, row:0, showX:false},
  {name:'IC1',  pat:IC1_patients,  ctrl:IC1_controls,  fit:IC1_fit,  lo:IC1_lo,  hi:IC1_hi,  range:[-2.34,3.19], ticks:[-2,-1,0,1,2,3], col:1, row:0, showX:false},
  {name:'IC0',  pat:IC0_patients,  ctrl:IC0_controls,  fit:IC0_fit,  lo:IC0_lo,  hi:IC0_hi,  range:[-1.92,3.92], ticks:[-1,0,1,2,3], col:2, row:0, showX:false},
  {name:'IC5',  pat:IC5_patients,  ctrl:IC5_controls,  fit:IC5_fit,  lo:IC5_lo,  hi:IC5_hi,  range:[-2.32,2.78], ticks:[-2,-1,0,1,2], col:3, row:0, showX:false},
  {name:'IC13', pat:IC13_patients, ctrl:IC13_controls, fit:IC13_fit, lo:IC13_lo, hi:IC13_hi, range:[-5.4,3.01], ticks:[-5,-2.5,0,2.5], dec:1, col:0, row:1, showX:false},
  {name:'IC33', pat:IC33_patients, ctrl:IC33_controls, fit:IC33_fit, lo:IC33_lo, hi:IC33_hi, range:[-3.57,4.51], ticks:[-2,0,2,4], col:1, row:1, showX:false},
  {name:'IC4',  pat:IC4_patients,  ctrl:IC4_controls,  fit:IC4_fit,  lo:IC4_lo,  hi:IC4_hi,  range:[-1.37,2.19], ticks:[-1,0,1,2], col:2, row:1, showX:true},
  {name:'IC6',  pat:IC6_patients,  ctrl:IC6_controls,  fit:IC6_fit,  lo:IC6_lo,  hi:IC6_hi,  range:[-3.12,2.94], ticks:[-3,-2,-1,0,1,2], col:3, row:1, showX:true},
  {name:'IC30', pat:IC30_patients, ctrl:IC30_controls, fit:IC30_fit, lo:IC30_lo, hi:IC30_hi, range:[-3.04,3.04], ticks:[-3,-2,-1,0,1,2,3], col:0, row:2, showX:true},
  {name:'IC7',  pat:IC7_patients,  ctrl:IC7_controls,  fit:IC7_fit,  lo:IC7_lo,  hi:IC7_hi,  range:[-3.22,3.3], ticks:[-3,-2,-1,0,1,2,3], col:1, row:2, showX:true}
];
const sexPanels = [
  {name:'IC1',  women:B_IC1_women,  men:B_IC1_men,  span:B_IC1_span,  range:[-2.99,4.03], ticks:[-2,0,2], col:0, row:0, showX:false},
  {name:'IC2',  women:B_IC2_women,  men:B_IC2_men,  span:B_IC2_span,  range:[-3.46,2.99], ticks:[-3,-2,-1,0,1,2], col:1, row:0, showX:false},
  {name:'IC15', women:B_IC15_women, men:B_IC15_men, span:B_IC15_span, range:[-4.15,4.66], ticks:[-4,-2,0,2,4], col:2, row:0, showX:true},
  {name:'IC13', women:B_IC13_women, men:B_IC13_men, span:B_IC13_span, range:[-6.49,3.86], ticks:[-6,-4,-2,0,2], col:0, row:1, showX:true},
  {name:'IC5',  women:B_IC5_women,  men:B_IC5_men,  span:B_IC5_span,  range:[-3.49,3.79], ticks:[-2,0,2], col:1, row:1, showX:true}
];

const traces = [], shapes = [], annotations = [];
const layout = {
  width: W, height: H, margin: {l:0, r:0, t:0, b:0},
  paper_bgcolor: '#ffffff', plot_bgcolor: 'rgba(0,0,0,0)',
  showlegend: false, font: {family: FONT, color: TXT, size: 16},
  violinmode: 'overlay', boxmode: 'overlay', hovermode: false
};
const tickFont = {family: FONT, size: 16.5, color: TXT};
const fmt = (v, dec) => dec ? v.toFixed(dec) : String(v);

function addStrip(c, s, label) {
  shapes.push({type:'rect', xref:'paper', yref:'paper', x0:fx(c[0]), x1:fx(c[1]), y0:fy(s[1]), y1:fy(s[0]),
               fillcolor:'#CCCCCC', line:{width:0}, layer:'below'});
  annotations.push({xref:'paper', yref:'paper', x:fx((c[0]+c[1])/2), y:fy((s[0]+s[1])/2 + 0.5), text:label,
               showarrow:false, xanchor:'center', yanchor:'middle', font:{family:FONT, size:17, color:TXT}});
}
function yAxis(p, dom, xa) {
  return {domain:dom, range:p.range, anchor:xa, showline:true, linecolor:'#000', linewidth:1.2,
          ticks:'outside', ticklen:4, tickcolor:'#000', tickwidth:1,
          tickvals:p.ticks, ticktext:p.ticks.map(v => fmt(v, p.dec)), tickfont:tickFont,
          showgrid:false, zeroline:false, fixedrange:true};
}

let n = 0;
agePanels.forEach(p => {
  const k = n === 0 ? '' : String(n + 1); n++;
  const xa = 'x' + k, ya = 'y' + k;
  const c = A_COLS[p.col], r = A_ROWS[p.row], s = A_STRIPS[p.row];
  layout['xaxis' + k] = {domain:[fx(c[0]), fx(c[1])], range:[15.35, 73.65], anchor:ya, type:'linear',
    showline:p.showX, linecolor:'#000', linewidth:1.2, ticks:p.showX ? 'outside' : '', ticklen:4, tickcolor:'#000',
    tickvals:ageTicks, ticktext:ageTicks.map(String), showticklabels:p.showX, tickfont:tickFont,
    showgrid:false, zeroline:false, fixedrange:true};
  layout['yaxis' + k] = yAxis(p, [fy(r[1]), fy(r[0])], xa);
  traces.push({type:'scatter', mode:'markers', xaxis:xa, yaxis:ya, name:groupNames[1],
    x:p.pat.map(d => d[0]), y:p.pat.map(d => d[1]), marker:{size:6.5, color:COL_PAT, line:{width:0}}});
  traces.push({type:'scatter', mode:'markers', xaxis:xa, yaxis:ya, name:groupNames[0],
    x:p.ctrl.map(d => d[0]), y:p.ctrl.map(d => d[1]), marker:{size:6.5, color:COL_CTRL, line:{width:0}}});
  traces.push({type:'scatter', mode:'lines', xaxis:xa, yaxis:ya, x:smoothAge, y:p.lo,
    line:{width:0, shape:'spline', smoothing:1}});
  traces.push({type:'scatter', mode:'lines', xaxis:xa, yaxis:ya, x:smoothAge, y:p.hi, fill:'tonexty',
    fillcolor:'rgba(153,153,153,0.4)', line:{width:0, shape:'spline', smoothing:1}});
  traces.push({type:'scatter', mode:'lines', xaxis:xa, yaxis:ya, x:smoothAge, y:p.fit,
    line:{width:2.4, color:'#3366FF', shape:'spline', smoothing:1}});
  addStrip(c, s, p.name);
});

sexPanels.forEach((p, i) => {
  const k = String(n + 1); n++;
  const xa = 'x' + k, ya = 'y' + k;
  const c = B_COLS[p.col], r = B_ROWS[p.row], s = B_STRIPS[p.row];
  layout['xaxis' + k] = {domain:[fx(c[0]), fx(c[1])], range:[0.4, 2.6], anchor:ya, type:'linear',
    showline:p.showX, linecolor:'#000', linewidth:1.2, ticks:'', showticklabels:false,
    showgrid:false, zeroline:false, fixedrange:true};
  layout['yaxis' + k] = yAxis(p, [fy(r[1]), fy(r[0])], xa);
  const groups = [[p.women, 1, WOMEN, WOMEN_V, sexNames[0], p.span[0]], [p.men, 2, MEN, MEN_V, sexNames[1], p.span[1]]];
  // violins (density shape)
  groups.forEach(g => {
    traces.push({type:'violin', xaxis:xa, yaxis:ya, y:g[0], x0:g[1], name:g[4],
      scalegroup:'B' + i, scalemode:'width', width:0.9, spanmode:'manual', span:g[5],
      fillcolor:g[3], line:{color:'#333333', width:1},
      points:false, box:{visible:false}, meanline:{visible:false}, hoverinfo:'skip'});
  });
  // boxplots
  groups.forEach(g => {
    traces.push({type:'box', xaxis:xa, yaxis:ya, y:g[0], x0:g[1], name:g[4], width:0.2,
      fillcolor:g[2], line:{color:'#333333', width:1.5}, whiskerwidth:0,
      boxpoints:'outliers', jitter:0, pointpos:0,
      marker:{size:6, color:'#222222', line:{width:0}}, hoverinfo:'skip'});
  });
  // jittered sample points on top
  groups.forEach(g => {
    traces.push({type:'box', xaxis:xa, yaxis:ya, y:g[0], x0:g[1], name:g[4], width:0.55,
      fillcolor:'rgba(0,0,0,0)', line:{color:'rgba(0,0,0,0)', width:0}, whiskerwidth:0,
      boxpoints:'all', jitter:1, pointpos:0,
      marker:{size:5.5, color:'rgba(20,20,20,0.27)', line:{width:0}}, hoverinfo:'skip'});
  });
  addStrip(c, s, p.name);
});

// Titles and labels
const ann = (x, y, text, size, extra) => annotations.push(Object.assign({xref:'paper', yref:'paper',
  x:fx(x), y:fy(y), text:text, showarrow:false, xanchor:'center', yanchor:'middle',
  font:{family:FONT, size:size, color:'#000'}}, extra || {}));
ann(18, 19, '<b>A</b>', 17);
ann(813, 19, '<b>B</b>', 17);
ann(440, 20, '<b>Association between ICs and age</b>', 20.5);
ann(1089, 102, '<b>Association between ICs and sex</b>', 20.5);
ann(31, 400, 'IC subject weights', 20.5, {textangle:-90});
ann(821, 430, 'IC subject weights', 20.5, {textangle:-90});
ann(438, 790, 'age', 20.5);

// Legend A
ann(105, 847, 'Groups', 20.5, {xanchor:'left'});
const dot = (x, y, col) => shapes.push({type:'circle', xref:'paper', yref:'paper',
  x0:fx(x-3.3), x1:fx(x+3.3), y0:fy(y+3.3), y1:fy(y-3.3), fillcolor:col, line:{width:0}});
dot(197, 846, COL_CTRL);
ann(218, 847, groupNames[0], 18, {xanchor:'left'});
dot(307, 846, COL_PAT);
ann(328, 847, groupNames[1], 18, {xanchor:'left'});

// Legend B
ann(880, 769, 'sex', 20.5, {xanchor:'left'});
function key(x0, fillV, fillB) {
  const x1 = x0 + 19.5, y0 = 760.5, y1 = 776.5, cx = (x0 + x1) / 2;
  shapes.push({type:'rect', xref:'paper', yref:'paper', x0:fx(x0), x1:fx(x1), y0:fy(y1), y1:fy(y0),
    fillcolor:fillV, line:{color:'#333333', width:0.8}});
  shapes.push({type:'line', xref:'paper', yref:'paper', x0:fx(cx), x1:fx(cx), y0:fy(y1), y1:fy(y0),
    line:{color:'#333333', width:0.8}});
  shapes.push({type:'rect', xref:'paper', yref:'paper', x0:fx(x0+2), x1:fx(x1-2), y0:fy(772.5), y1:fy(764.5),
    fillcolor:fillB, line:{color:'#333333', width:0.8}});
  shapes.push({type:'line', xref:'paper', yref:'paper', x0:fx(x0+2), x1:fx(x1-2), y0:fy(768.5), y1:fy(768.5),
    line:{color:'#333333', width:1}});
}
key(923.5, WOMEN_V, WOMEN);
ann(956, 769, sexNames[0], 18, {xanchor:'left'});
key(1026, MEN_V, MEN);
ann(1057, 769, sexNames[1], 18, {xanchor:'left'});

layout.shapes = shapes;
layout.annotations = annotations;
Plotly.newPlot('chart', traces, layout, {displayModeBar:false, staticPlot:true});
</script>
</body></html>
